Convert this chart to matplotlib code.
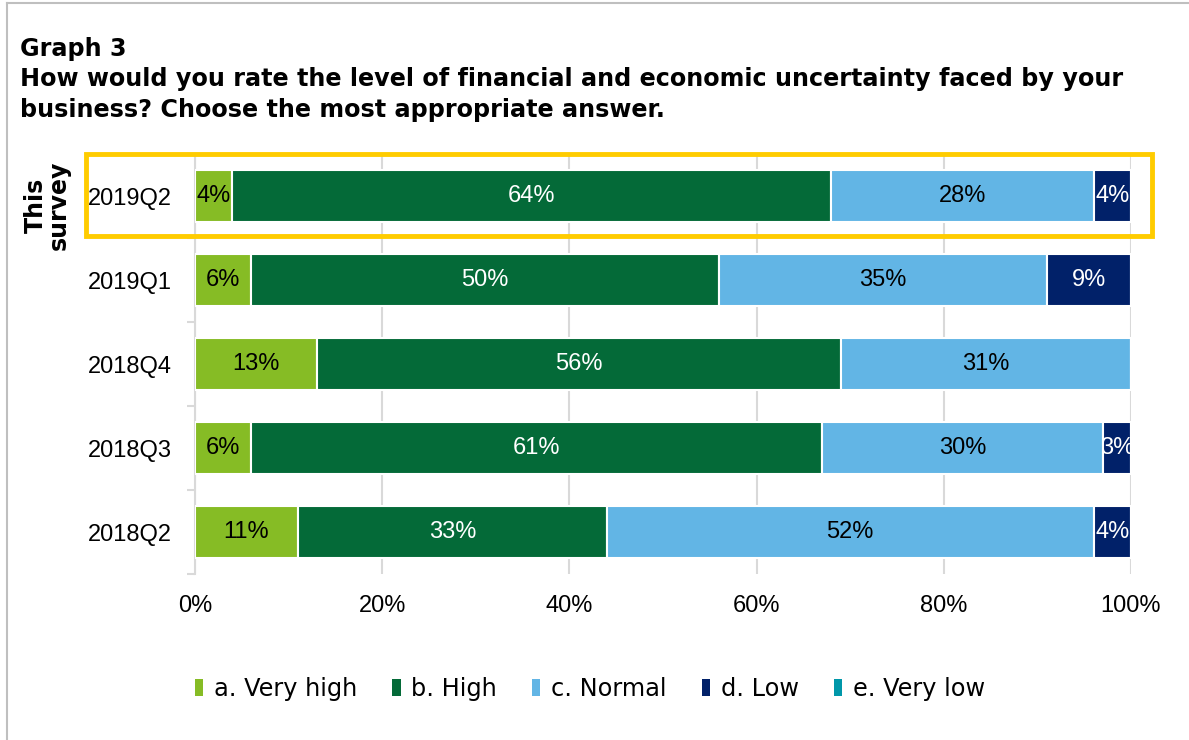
import numpy as np
import matplotlib
matplotlib.use("Agg")
import matplotlib.pyplot as plt
from matplotlib.patches import Rectangle, Patch
from matplotlib.lines import Line2D

quarters = ["2019Q2", "2019Q1", "2018Q4", "2018Q3", "2018Q2"]
answers = ["a. Very high", "b. High", "c. Normal", "d. Low", "e. Very low"]
very_high = [4, 6, 13, 6, 11]
high = [64, 50, 56, 61, 33]
normal = [28, 35, 31, 30, 52]
low = [4, 9, 0, 3, 4]
very_low = [0, 0, 0, 0, 0]

colors = ["#86BC25", "#046A38", "#62B5E5", "#012169", "#0097A9"]
label_colors = ["black", "white", "black", "white", "white"]

W, H = 1189, 740
fig = plt.figure(figsize=(W / 100, H / 100), dpi=100)

# frame lines at top and left
fig.add_artist(Line2D([7 / W, 7 / W], [0, 1 - 3 / H], color="#BFBFBF", lw=1.5))
fig.add_artist(Line2D([7 / W, 1], [1 - 3 / H, 1 - 3 / H], color="#BFBFBF", lw=1.5))

fig.text(20 / W, 1 - 37 / H, "Graph 3\nHow would you rate the level of financial and economic uncertainty faced by your\nbusiness? Choose the most appropriate answer.",
         family="DejaVu Sans", weight="bold", fontsize=17.2, va="top", ha="left",
         linespacing=1.33)

ax = fig.add_axes([195 / W, 1 - 574 / H, 936 / W, 420 / H])

y = np.arange(len(quarters))
series = [very_high, high, normal, low, very_low]
left = np.zeros(len(quarters))
for vals, c, tc, name in zip(series, colors, label_colors, answers):
    vals = np.array(vals, dtype=float)
    ax.barh(y, vals, left=left, height=0.62, color=c, edgecolor="white", linewidth=1.5, label=name, zorder=3)
    for yi, v, l in zip(y, vals, left):
        if v > 0:
            ax.text(l + v / 2, yi, f"{int(v)}%", ha="center", va="center", color=tc,
                    family="Liberation Sans", fontsize=17, zorder=4)
    left += vals

ax.set_xlim(0, 100)
ax.set_ylim(len(quarters) - 0.5, -0.5)
ax.set_xticks(np.arange(0, 101, 20))
ax.set_xticklabels([f"{v}%" for v in range(0, 101, 20)], family="Liberation Sans", fontsize=17)
ax.set_yticks(y)
ax.set_yticklabels(quarters, family="Liberation Sans", fontsize=17)
ax.set_yticks(np.arange(-0.5, len(quarters)), minor=True)
ax.tick_params(axis="x", length=0, pad=15)
ax.tick_params(axis="y", which="major", length=0, pad=17)
ax.tick_params(axis="y", which="minor", length=6, width=1.5, color="#D9D9D9")
ax.grid(axis="x", color="#D9D9D9", linewidth=1.5, zorder=0)
for s in ["top", "right", "bottom"]:
    ax.spines[s].set_visible(False)
ax.spines["left"].set_color("#D9D9D9")
ax.spines["left"].set_linewidth(1.5)

# highlight box around the latest survey
box = Rectangle((86 / W, 1 - 236 / H), 1066 / W, 82 / H, transform=fig.transFigure,
                fill=False, edgecolor="#FFCC00", linewidth=3.5, zorder=10)
fig.add_artist(box)
fig.text(47 / W, 1 - 205 / H, "This\nsurvey", rotation=90, ha="center", va="center",
         multialignment="center", family="DejaVu Sans", weight="bold", fontsize=17,
         linespacing=0.95)

handles = [Patch(facecolor=c, edgecolor="none") for c in colors]
fig.legend(handles, answers, loc="center", bbox_to_anchor=(590 / W, 1 - 689 / H), ncol=5,
           frameon=False, prop={"family": "DejaVu Sans", "size": 17.3},
           handlelength=0.35, handleheight=0.75, handletextpad=0.45, columnspacing=1.45)

fig.savefig("out.png", dpi=100)
